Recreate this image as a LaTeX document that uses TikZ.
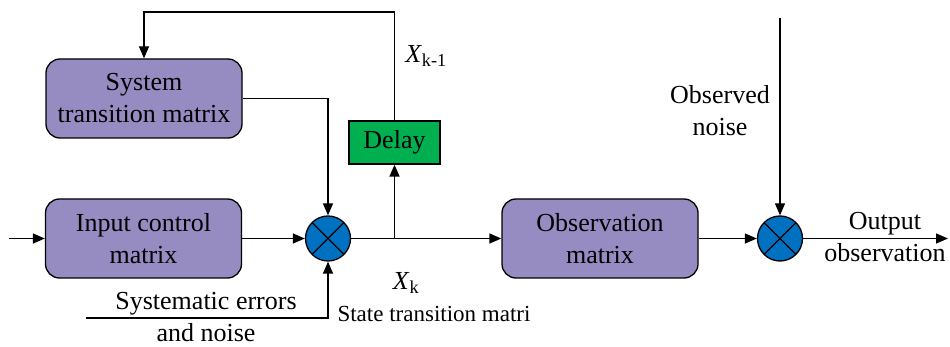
\documentclass[tikz,border=0pt]{standalone}
\usepackage{fontspec}
\setmainfont{Liberation Serif}
\usetikzlibrary{arrows.meta}
\definecolor{boxpurple}{RGB}{151,140,194}
\definecolor{delaygreen}{RGB}{0,176,80}
\definecolor{mulblue}{RGB}{0,112,192}
\begin{document}
\begin{tikzpicture}[x=1pt,y=-1pt,
  txt/.style={font=\fontsize{26}{32}\selectfont, align=center, inner sep=0pt},
  blk/.style={txt, draw=black, line width=1.3pt, fill=boxpurple, rounded corners=14pt, minimum width=196pt, minimum height=79pt},
  delaybox/.style={txt, draw=black, line width=1.3pt, fill=delaygreen, minimum width=91pt, minimum height=43pt},
  mul/.style={circle, draw=black, line width=1.3pt, fill=mulblue, minimum size=45pt, inner sep=0pt,
    path picture={\draw[line width=1.3pt] (path picture bounding box.north west) -- (path picture bounding box.south east)
      (path picture bounding box.north east) -- (path picture bounding box.south west);}},
  arr/.style={line width=1.3pt, -{Triangle[length=12pt,width=10pt]}},
  ln/.style={line width=1.3pt}]
\useasboundingbox (0,0) rectangle (950,347);

\node[blk] (stm) at (144,98.5) {System\\transition matrix};
\node[blk] (icm) at (143.5,238.5) {Input control\\matrix};
\node[blk] (obs) at (600,238.5) {Observation\\matrix};
\node[delaybox] (dly) at (394.5,142.5) {Delay};
\node[mul] (m1) at (328,238.5) {};
\node[mul] (m2) at (780,238.5) {};

\coordinate (in0) at (9,238.5);
\coordinate (se) at (86,318);
\coordinate (top) at (144,12);
\coordinate (on) at (780,18);
\coordinate (out) at (948,238.5);

\draw[arr] (in0) -- (icm.west);
\draw[arr] (icm.east) -- (m1.west);
\draw[arr] (stm.east) -| (m1.north);
\draw[arr] (se) -| (m1.south);
\draw[arr] (m1.east) -- (obs.west);
\coordinate (br) at (dly.south |- m1.east);
\draw[arr] (br) -- (dly.south);
\draw[arr] (dly.north) |- (top) -- (stm.north);
\draw[arr] (obs.east) -- (m2.west);
\draw[arr] (on) -- (m2.north);
\draw[arr] (m2.east) -- (out);

\node[txt] (xk1) at (426,56) {\textit{X}\textsubscript{k-1}};
\node[txt] (xk) at (406,283) {\textit{X}\textsubscript{k}};
\node[txt, font=\fontsize{23}{28}\selectfont] (stmt) at (434,314) {State transition matri};
\node[txt] (sen) at (206,317) {Systematic errors\\and noise};
\node[txt] (obn) at (720,111) {Observed\\noise};
\node[txt] (oo) at (885,237) {Output\\observation};
\end{tikzpicture}
\end{document}
